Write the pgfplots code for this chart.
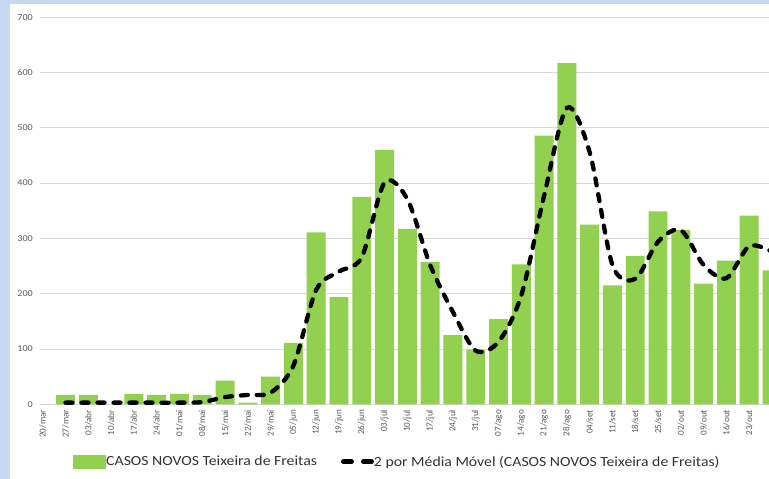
\documentclass[border=0pt]{standalone}
\usepackage{fontspec}
\setmainfont{Carlito}
\newfontfamily\widefont[FakeStretch=1.13]{Carlito}
\usepackage{pgfplots}
\usepackage{pgfplotstable}
\pgfplotsset{compat=1.18}

\definecolor{barfill}{RGB}{146,208,80}
\definecolor{framebg}{RGB}{198,217,240}
\definecolor{gridc}{RGB}{217,217,217}
\definecolor{tickc}{RGB}{89,89,89}
\definecolor{legc}{RGB}{50,50,50}

\tikzset{avgline/.style={black, line width=4.3bp, line cap=round, dash pattern=on 7bp off 9bp}}

% weekly new cases (week index, cases)
\pgfplotstableread{
idx cases
0 0
1 17
2 17
3 0
4 19
5 17
6 19
7 17
8 43
9 3
10 50
11 111
12 311
13 194
14 375
15 460
16 317
17 257
18 125
19 99
20 154
21 253
22 486
23 617
24 325
25 215
26 268
27 349
28 315
29 218
30 260
31 341
32 242
}\casos

% two-period moving average
\pgfplotstableread{
idx avg
1 3
2 3
3 3
4 3
5 3
6 3
7 4
8 13
9 17
10 21
11 70
12 207
13 240
14 266
15 401
16 371
17 252
18 167
19 97
20 113
21 197
22 377
23 536
24 456
25 252
26 227
27 294
28 315
29 252
30 228
31 286
32 276
}\media

\begin{document}
\begin{tikzpicture}
\useasboundingbox (0bp,0bp) rectangle (769bp,479bp);
\fill[framebg] (0bp,0bp) rectangle (769bp,479bp);
\fill[white] (10bp,0bp) rectangle (769bp,475bp);
\begin{axis}[
  at={(40bp,74.7bp)}, anchor=south west,
  scale only axis, width=729bp, height=387.1bp,
  xmin=-0.12, xmax=31.87, ymin=0, ymax=700,
  ytick={0,100,...,700},
  xtick={0,...,32},
  xticklabels={20/mar,27/mar,03/abr,10/abr,17/abr,24/abr,01/mai,08/mai,15/mai,22/mai,29/mai,05/jun,12/jun,19/jun,26/jun,03/jul,10/jul,17/jul,24/jul,31/jul,07/ago,14/ago,21/ago,28/ago,04/set,11/set,18/set,25/set,02/out,09/out,16/out,23/out,30/out},
  ymajorgrids, grid style={gridc, line width=0.8bp},
  axis line style={draw=none},
  major tick length=0pt,
  /pgf/number format/assume math mode=true,
  xticklabel style={rotate=90, anchor=east, inner sep=0pt,
    font=\fontsize{9.2}{10}\selectfont, text=tickc},
  xticklabel shift=5.5bp,
  yticklabel style={anchor=east, inner sep=0pt,
    font=\widefont\fontsize{9}{10}\selectfont, text=tickc},
  yticklabel shift=7bp,
  clip=true,
  legend columns=2,
  legend cell align=left,
  legend style={
    at={(axis description cs:0.0453,-0.1483)}, anchor=west,
    draw=none, fill=none, inner sep=0pt,
    font=\widefont\fontsize{14}{16}\selectfont, text=legc,
    nodes={inner sep=0pt},
    /tikz/every even column/.append style={column sep=24bp},
  },
]
\addplot[ybar, bar width=0.83, fill=barfill, draw=none,
  legend image code/.code={\fill[barfill] (0bp,-7bp) rectangle (33bp,7bp);}]
  table[x=idx, y=cases] {\casos};
\addlegendentry{CASOS NOVOS Teixeira de Freitas}

\addplot[avgline, smooth, tension=0.5, mark=none,
  legend image code/.code={\draw[avgline, line width=5bp, dash pattern=on 8bp off 12bp] (2.5bp,0bp) -- (30.5bp,0bp);}]
  table[x=idx, y=avg] {\media};
\addlegendentry{2 por Média Móvel (CASOS NOVOS Teixeira de Freitas)}
\end{axis}
\end{tikzpicture}
\end{document}
